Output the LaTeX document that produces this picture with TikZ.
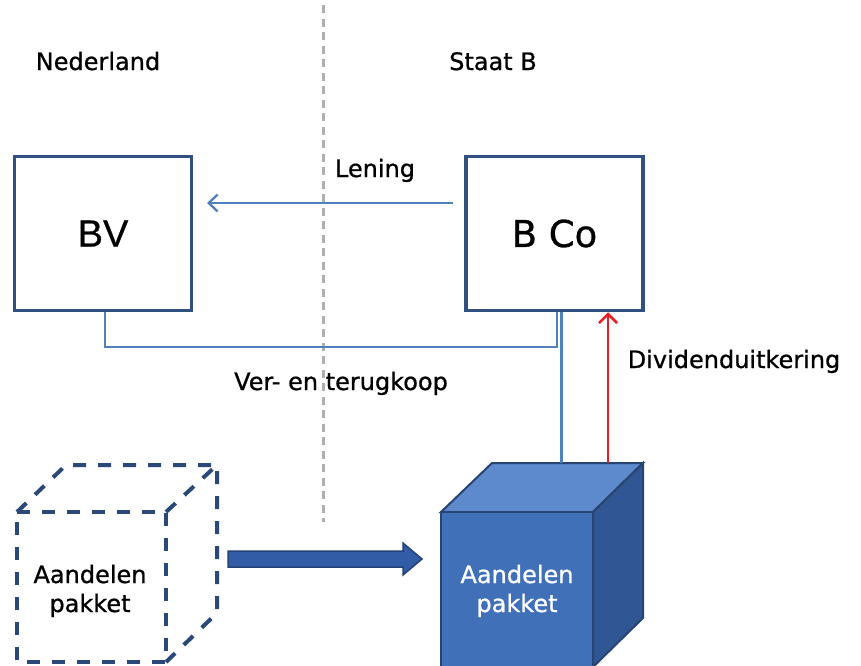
\documentclass[tikz,border=0pt]{standalone}
\usepackage{fontspec}
\setmainfont{DejaVu Sans}[FakeBold=0.8]
\newfontfamily\arialf{Liberation Sans}[FakeBold=0.6]
\usetikzlibrary{arrows.meta}
\definecolor{boxblue}{RGB}{48,80,128}
\definecolor{lineblue}{RGB}{79,129,189}
\definecolor{sepgray}{RGB}{175,175,175}
\definecolor{cubeline}{RGB}{42,72,120}
\definecolor{cubefront}{RGB}{64,112,184}
\definecolor{cubetop}{RGB}{92,138,204}
\definecolor{cubeside}{RGB}{48,86,148}
\definecolor{cubeedge}{RGB}{40,68,112}
\definecolor{arrowfill}{RGB}{50,92,165}
\definecolor{arrowedge}{RGB}{36,66,118}
\definecolor{divred}{RGB}{228,30,36}
\tikzset{
  lbl/.style={font=\fontsize{24}{28}\selectfont, text=black, inner sep=0pt},
  entity/.style={draw=boxblue, line width=3.5pt, minimum width=177pt, minimum height=154pt, inner sep=0pt},
  thinblue/.style={draw=lineblue, line width=2.3pt},
  sepline/.style={draw=sepgray, line width=3pt, dash pattern=on 8pt off 5.5pt},
  ghostcube/.style={draw=cubeline, line width=4pt, dash pattern=on 13pt off 12pt},
  cubetxt/.style={font=\fontsize{24}{28}\selectfont, inner sep=0pt, anchor=base},
}
\begin{document}
\begin{tikzpicture}[x=1pt,y=-1pt]
\useasboundingbox (0,0) rectangle (861,665);
\fill[white] (0,0) rectangle (861,665);

% separator
\coordinate (sepT) at (323,5);
\coordinate (sepB) at (323,522);
\draw[sepline] (sepT) -- (sepB);

% headings
\node[lbl, anchor=base] (ned) at (98,70) {Nederland};
\node[lbl, anchor=base] (staat) at (493,70) {Staat B};

% entities
\node[entity, font=\arialf\fontsize{38}{40}\selectfont] (bv) at (103,233.5) {BV};
\node[entity, font=\fontsize{37}{40}\selectfont] (bco) at (554.5,233.5) {B Co};

% Lening
\coordinate (lenA) at (453,203);
\coordinate (lenB) at (207,203);
\draw[thinblue, -{Straight Barb[length=9pt, width=17pt, line width=2.3pt]}] (lenA) -- (lenB);
\node[lbl, anchor=base] (lening) at (375,177) {Lening};

% Ver- en terugkoop
\draw[thinblue] ([xshift=2pt]bv.south) -- ++(0,35) -| ([xshift=2.5pt]bco.south);
\node[lbl, anchor=base] (verkoop) at (341,390) {Ver- en terugkoop};

% solid cube
\coordinate (sF1) at (441,512);
\coordinate (sF2) at (593,512);
\coordinate (sF3) at (593,680);
\coordinate (sF4) at (441,680);
\coordinate (sB1) at (492,463);
\coordinate (sB2) at (643,463);
\coordinate (sB3) at (643,618);
\coordinate (sB4) at (593,667);
\draw[cubeedge, line width=2pt, fill=cubetop] (sF1) -- (sB1) -- (sB2) -- (sF2) -- cycle;
\draw[cubeedge, line width=2pt, fill=cubeside] (sF2) -- (sB2) -- (sB3) -- (sB4) -- cycle;
\draw[cubeedge, line width=2pt, fill=cubefront] (sF1) -- (sF2) -- (sF3) -- (sF4) -- cycle;
\node[cubetxt, text=white] (sa1) at (517,583) {Aandelen};
\node[cubetxt, text=white] (sa2) at (517,612) {pakket};

% connectors to cube
\coordinate (cubeT1) at (561.5,463);
\coordinate (cubeT2) at (608,463);
\draw[thinblue] ([xshift=7pt]bco.south) -- (cubeT1);
\draw[draw=divred, line width=2.6pt, -{Straight Barb[length=9pt, width=18pt, line width=2.6pt]}] (cubeT2) -- ([xshift=53.5pt]bco.south);
\node[lbl, anchor=base] (div) at (734,368) {Dividenduitkering};

% dashed cube
\coordinate (gF1) at (17,512);
\coordinate (gF2) at (166,512);
\coordinate (gF3) at (166,662);
\coordinate (gF4) at (17,662);
\coordinate (gB1) at (66,465);
\coordinate (gB2) at (217,465);
\coordinate (gB3) at (217,613);
\draw[ghostcube] (gF1) -- (gF2) -- (gF3) -- (gF4) -- cycle;
\draw[ghostcube] (gF1) -- (gB1) -- (gB2) -- (gB3) -- (gF3);
\draw[ghostcube] (gF2) -- (gB2);
\node[cubetxt, text=black] (ga1) at (90,583) {Aandelen};
\node[cubetxt, text=black] (ga2) at (90,612) {pakket};

% transfer arrow
\draw[arrowedge, line width=1.5pt, fill=arrowfill, line join=miter]
  (228,551) -- (403,551) -- (403,543) -- (422,559) -- (403,575) -- (403,567) -- (228,567) -- cycle;
\end{tikzpicture}
\end{document}
